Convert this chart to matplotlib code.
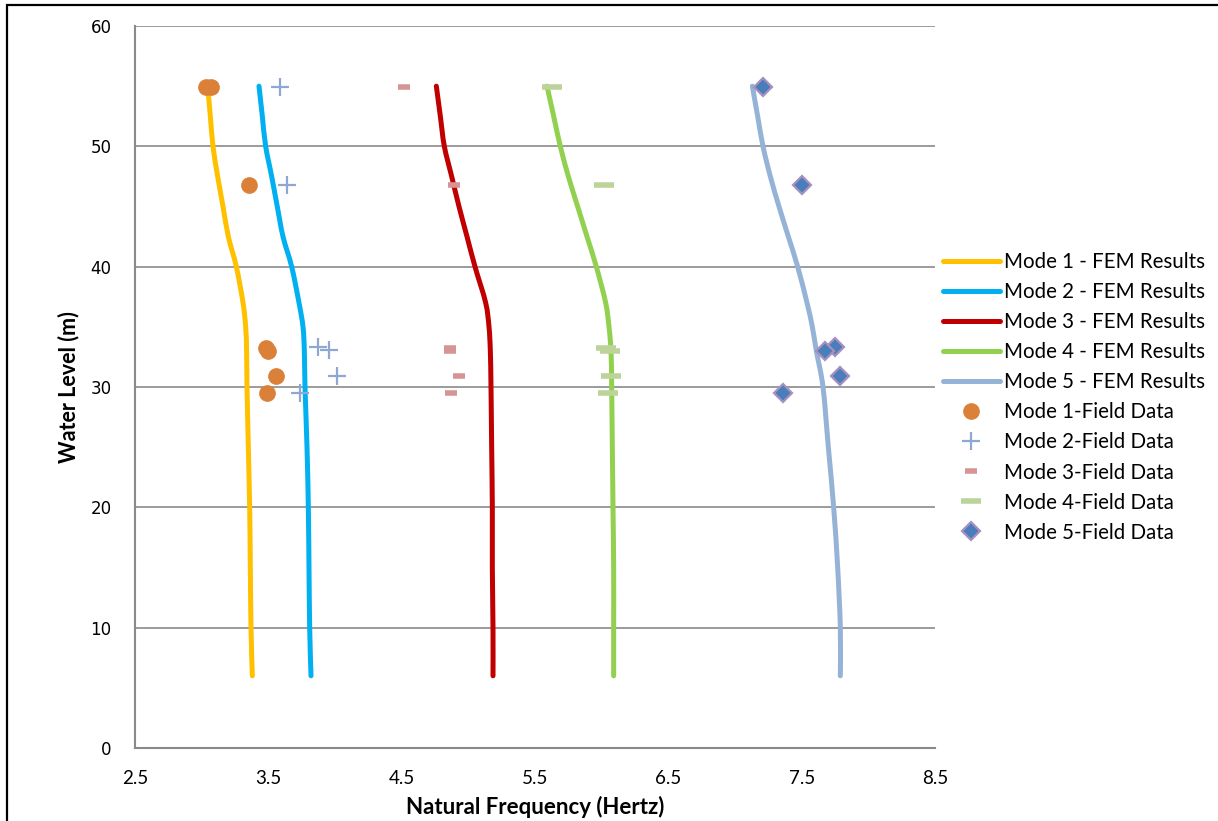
import matplotlib
matplotlib.use("Agg")
import matplotlib.pyplot as plt
from matplotlib.patches import Rectangle, PathPatch
from matplotlib.path import Path

# ---- FEM results (water level in m vs natural frequency in Hz) ----
fem_levels = [6, 10, 15, 20, 25, 30, 33, 35, 37, 40, 42.5, 45, 47.5, 50, 52.5, 55]
fem_mode1 = [3.38, 3.37, 3.365, 3.36, 3.35, 3.34, 3.337, 3.33, 3.31, 3.26, 3.20, 3.16, 3.12, 3.085, 3.065, 3.045]
fem_mode2 = [3.82, 3.81, 3.805, 3.80, 3.79, 3.775, 3.77, 3.76, 3.73, 3.675, 3.61, 3.567, 3.525, 3.48, 3.455, 3.43]
fem_mode3 = [5.185, 5.185, 5.18, 5.18, 5.175, 5.17, 5.165, 5.155, 5.13, 5.05, 4.99, 4.93, 4.875, 4.82, 4.79, 4.76]
fem_mode4 = [6.09, 6.09, 6.09, 6.085, 6.08, 6.075, 6.07, 6.055, 6.03, 5.96, 5.89, 5.82, 5.75, 5.69, 5.64, 5.59]
fem_mode5 = [7.79, 7.79, 7.77, 7.74, 7.70, 7.66, 7.61, 7.58, 7.54, 7.47, 7.40, 7.33, 7.265, 7.21, 7.17, 7.13]

# ---- Field data ----
field1_levels = [54.9, 54.9, 46.8, 33.25, 33.0, 30.9, 29.5]
field1_freq = [3.03, 3.07, 3.355, 3.48, 3.50, 3.56, 3.49]
field2_levels = [54.9, 46.8, 33.3, 33.1, 30.9, 29.5]
field2_freq = [3.59, 3.64, 3.87, 3.955, 4.015, 3.74]
field3_levels = [54.9, 46.8, 33.25, 33.0, 30.9, 29.5]
field3_freq = [4.52, 4.89, 4.86, 4.86, 4.93, 4.87]
field4_levels = [54.9, 46.8, 33.25, 33.0, 30.9, 29.5]
field4_freq = [5.63, 6.02, 6.03, 6.06, 6.07, 6.05]
field5_levels = [54.9, 46.8, 33.3, 33.0, 30.9, 29.5]
field5_freq = [7.21, 7.50, 7.75, 7.675, 7.79, 7.36]

x_ticks = [2.5, 3.5, 4.5, 5.5, 6.5, 7.5, 8.5]
y_ticks = [0, 10, 20, 30, 40, 50, 60]


def smooth_path(xs, ys):
    """Catmull-Rom style smoothed line (like a spreadsheet 'smoothed line') as Bezier path."""
    pts = list(zip(xs, ys))
    n = len(pts)
    verts = [pts[0]]
    codes = [Path.MOVETO]
    for i in range(n - 1):
        p0 = pts[i - 1] if i > 0 else pts[i]
        p1 = pts[i]
        p2 = pts[i + 1]
        p3 = pts[i + 2] if i + 2 < n else pts[i + 1]
        c1 = (p1[0] + (p2[0] - p0[0]) / 6.0, p1[1] + (p2[1] - p0[1]) / 6.0)
        c2 = (p2[0] - (p3[0] - p1[0]) / 6.0, p2[1] - (p3[1] - p1[1]) / 6.0)
        verts += [c1, c2, p2]
        codes += [Path.CURVE4] * 3
    return Path(verts, codes)


fig = plt.figure(figsize=(12.18, 8.21), dpi=100)
ax = fig.add_axes([135 / 1218, 1 - 748 / 821, 800 / 1218, 722 / 821])

lw = 3.6
fem_series = [
    (fem_mode1, "#FFC000", "Mode 1 - FEM Results"),
    (fem_mode2, "#00B0F0", "Mode 2 - FEM Results"),
    (fem_mode3, "#C00000", "Mode 3 - FEM Results"),
    (fem_mode4, "#92D050", "Mode 4 - FEM Results"),
    (fem_mode5, "#95B3D7", "Mode 5 - FEM Results"),
]
for vals, col, lab in fem_series:
    patch = PathPatch(smooth_path(vals, fem_levels), facecolor="none", edgecolor=col, lw=lw,
                      capstyle="round", joinstyle="round", transform=ax.transData, zorder=3)
    ax.add_patch(patch)
    ax.plot([], [], color=col, lw=lw, solid_capstyle="round", label=lab)

ax.plot(field1_freq, field1_levels, ls="none", marker="o", ms=11, color="#DA8038", mec="#DA8038", label="Mode 1-Field Data", zorder=4)
ax.plot(field2_freq, field2_levels, ls="none", marker="+", ms=13, mew=1.6, color="#8FA8D3", label="Mode 2-Field Data", zorder=4)
ax.plot(field3_freq, field3_levels, ls="none", marker="_", ms=8, mew=4, color="#D69595", label="Mode 3-Field Data", zorder=4)
ax.plot(field4_freq, field4_levels, ls="none", marker="_", ms=14, mew=4, color="#BCD39A", label="Mode 4-Field Data", zorder=4)
ax.plot(field5_freq, field5_levels, ls="none", marker="D", ms=9, mew=1.6, color="#4A7EBB", mec="#A690BF", label="Mode 5-Field Data", zorder=5)

ax.set_xlim(2.5, 8.5)
ax.set_ylim(0, 60)
ax.set_xticks(x_ticks)
ax.set_xticklabels([f"{v:.1f}" for v in x_ticks], fontfamily="Lato", fontsize=13.5)
ax.set_yticks(y_ticks)
ax.set_yticklabels([str(v) for v in y_ticks], fontfamily="DejaVu Sans", fontsize=12)
ax.tick_params(axis="both", length=0)
ax.tick_params(axis="y", pad=17)
ax.tick_params(axis="x", pad=16)

ax.yaxis.grid(True, color="#8A8A8A", lw=1.2, zorder=1)
ax.set_axisbelow(True)
for s in ["top", "right"]:
    ax.spines[s].set_visible(False)
for s in ["left", "bottom"]:
    ax.spines[s].set_color("#8A8A8A")
    ax.spines[s].set_linewidth(1.5)

ax.set_xlabel("Natural Frequency (Hertz)", fontfamily="Lato", fontweight="bold", fontsize=16, labelpad=6)
ax.set_ylabel("Water Level (m)", fontfamily="Lato", fontweight="bold", fontsize=15.5, labelpad=8)

fig.legend(loc="upper left", bbox_to_anchor=(943 / 1218, 1 - 252 / 821), frameon=False,
           prop={"family": "Lato", "size": 14.8}, handlelength=2.75, handletextpad=0.2,
           labelspacing=0.49, numpoints=1, borderaxespad=0, borderpad=0)

fig.patches.append(Rectangle((7 / 1218, -0.05), 1.2, 1.05 - 5 / 821, transform=fig.transFigure,
                             fill=False, edgecolor="black", lw=1.6))

fig.savefig("out.png", dpi=100)
